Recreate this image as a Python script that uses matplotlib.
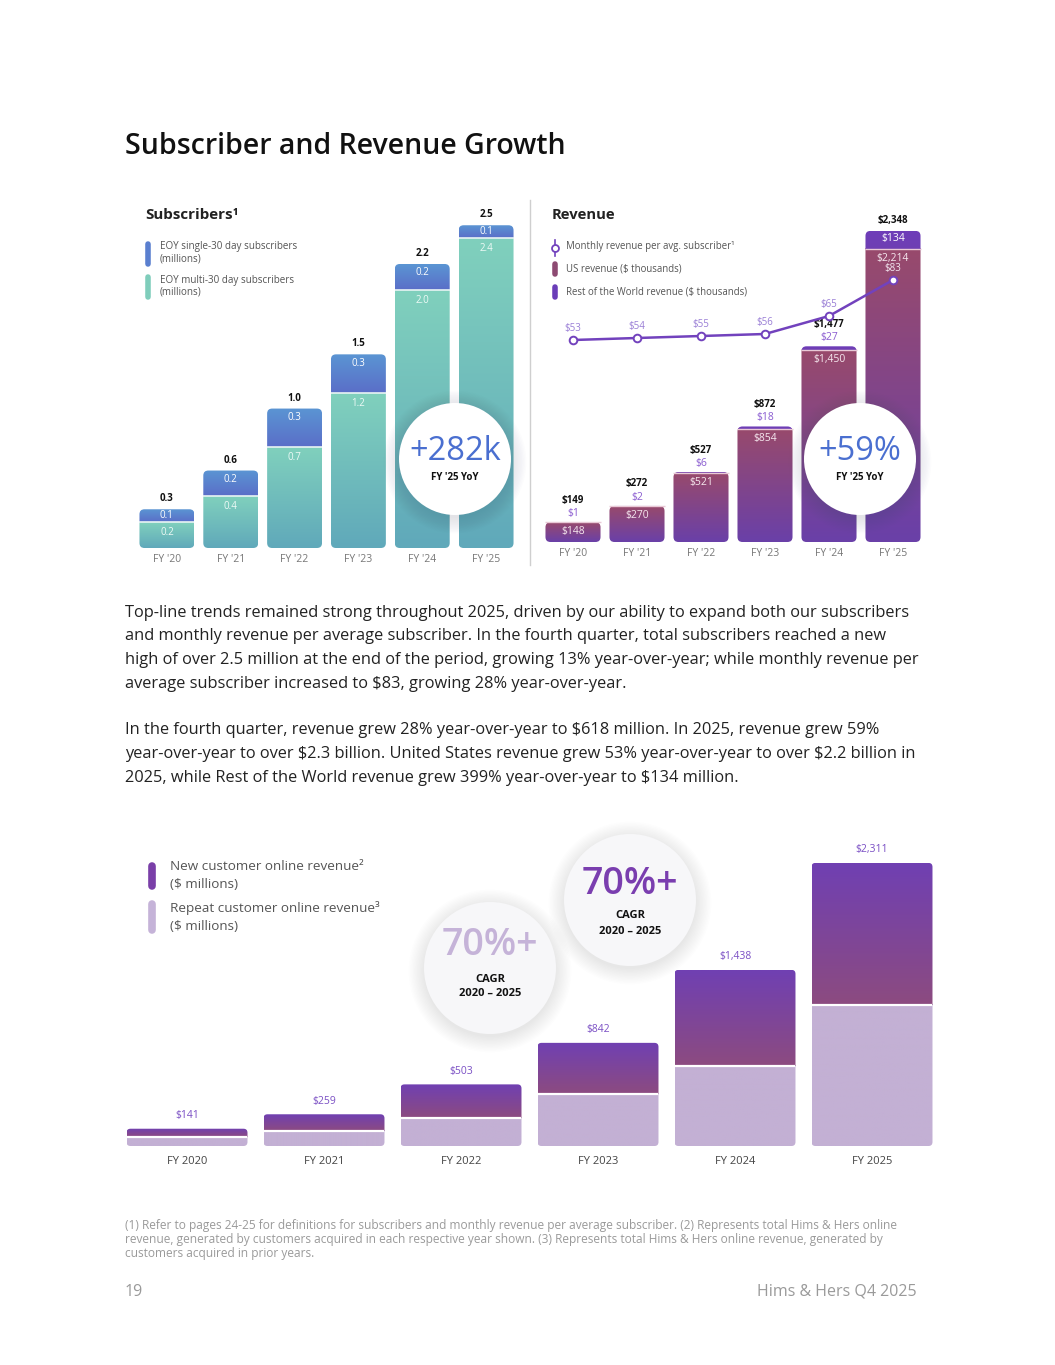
import numpy as np
import matplotlib.pyplot as plt
from matplotlib.patches import FancyBboxPatch, Circle
from matplotlib.lines import Line2D
from matplotlib.colors import to_rgb

W, H = 1055, 1365
plt.rcParams['font.family'] = ['Open Sans', 'DejaVu Sans']
plt.rcParams['text.parse_math'] = False

# ---- data ----
sub_years = ["FY '20", "FY '21", "FY '22", "FY '23", "FY '24", "FY '25"]
sub_multi = [0.2, 0.4, 0.78, 1.2, 2.0, 2.4]
sub_single = [0.1, 0.2, 0.3, 0.3, 0.2, 0.1]
sub_multi_lbl = ['0.2', '0.4', '0.7', '1.2', '2.0', '2.4']
sub_single_lbl = ['0.1', '0.2', '0.3', '0.3', '0.2', '0.1']
sub_total_lbl = ['0.3', '0.6', '1.0', '1.5', '2.2', '2.5']

rev_years = ["FY '20", "FY '21", "FY '22", "FY '23", "FY '24", "FY '25"]
rev_us = [148, 270, 521, 854, 1450, 2214]
rev_row = [1, 2, 6, 18, 27, 134]
arps = [53, 54, 55, 56, 65, 83]

online_years = ['FY 2020', 'FY 2021', 'FY 2022', 'FY 2023', 'FY 2024', 'FY 2025']
online_repeat = [73, 125, 226, 424, 656, 1153]
online_new = [68, 134, 277, 418, 782, 1158]

paragraph = [
    "Top-line trends remained strong throughout 2025, driven by our ability to expand both our subscribers",
    "and monthly revenue per average subscriber. In the fourth quarter, total subscribers reached a new",
    "high of over 2.5 million at the end of the period, growing 13% year-over-year; while monthly revenue per",
    "average subscriber increased to $83, growing 28% year-over-year.",
    "",
    "In the fourth quarter, revenue grew 28% year-over-year to $618 million. In 2025, revenue grew 59%",
    "year-over-year to over $2.3 billion. United States revenue grew 53% year-over-year to over $2.2 billion in",
    "2025, while Rest of the World revenue grew 399% year-over-year to $134 million.",
]
footnote = [
    "(1) Refer to pages 24-25 for definitions for subscribers and monthly revenue per average subscriber. (2) Represents total Hims & Hers online",
    "revenue, generated by customers acquired in each respective year shown. (3) Represents total Hims & Hers online revenue, generated by",
    "customers acquired in prior years.",
]

fig = plt.figure(figsize=(W / 100, H / 100), dpi=100)


def px_axes(x0, y0, x1, y1, **kw):
    return fig.add_axes([x0 / W, 1 - y1 / H, (x1 - x0) / W, (y1 - y0) / H], **kw)


def T(x, y, s, **kw):
    kw.setdefault('va', 'center')
    return fig.text(x / W, 1 - y / H, s, **kw)


def stack_clip(ax, x, w, h, rpx, ux, uy):
    return FancyBboxPatch((x, 0), w, h,
                          boxstyle=f"round,pad=0,rounding_size={rpx * ux}",
                          mutation_aspect=uy / ux, transform=ax.transData)


def grad_fill(ax, bar, c_top, c_bot, clip):
    x0, y0, w, h = bar.get_x(), bar.get_y(), bar.get_width(), bar.get_height()
    t = np.linspace(0, 1, 64)[:, None, None]
    img = np.array(to_rgb(c_top)) * (1 - t) + np.array(to_rgb(c_bot)) * t
    im = ax.imshow(img, extent=(x0, x0 + w, y0, y0 + h), origin='upper',
                   aspect='auto', zorder=2, interpolation='bilinear')
    im.set_clip_path(clip)
    bar.set_visible(False)


# ---- subscribers ----
ax1 = px_axes(135, 200, 518, 548)
ux1, uy1 = 6 / 383, 1 / 129.1
x = np.arange(len(sub_years))
bm = ax1.bar(x, sub_multi, width=0.86)
bs = ax1.bar(x, sub_single, bottom=sub_multi, width=0.86)
for i in range(len(x)):
    tot = sub_multi[i] + sub_single[i]
    clip = stack_clip(ax1, bm[i].get_x(), 0.86, tot, 5, ux1, uy1)
    grad_fill(ax1, bm[i], '#80d0bd', '#60a9ba', clip)
    grad_fill(ax1, bs[i], '#5b95d3', '#5a6ec8', clip)
    ax1.hlines(sub_multi[i], bm[i].get_x(), bm[i].get_x() + 0.86, color='#e8f4f4', lw=1.2, zorder=3)
    ax1.annotate(sub_total_lbl[i], (i, tot), xytext=(0, 7.5), textcoords='offset points',
                 ha='center', va='center', fontsize=7, fontweight='bold', color='#111')
    seg_px = sub_single[i] / uy1
    ax1.annotate(sub_single_lbl[i], (i, tot), xytext=(0, -min(9, seg_px / 2) * 0.72),
                 textcoords='offset points', ha='center', va='center', fontsize=7, color='white')
    ax1.annotate(sub_multi_lbl[i], (i, sub_multi[i]), xytext=(0, -7.5), textcoords='offset points',
                 ha='center', va='center', fontsize=7, color='#eefaf6')
    ax1.annotate(sub_years[i], (i, 0), xytext=(0, -8), textcoords='offset points',
                 ha='center', va='center', fontsize=7.5, color='#777')
ax1.set_xlim(-0.5, 5.5)
ax1.set_ylim(0, 348 / 129.1)
ax1.axis('off')

# ---- revenue ----
ax2 = px_axes(541, 200, 925, 542)
ux2, uy2 = 6 / 384, 1 / 0.1325
bu = ax2.bar(x, rev_us, width=0.86)
br = ax2.bar(x, rev_row, bottom=rev_us, width=0.86)
for i in range(len(x)):
    tot = rev_us[i] + rev_row[i]
    clip = stack_clip(ax2, bu[i].get_x(), 0.86, tot, 5, ux2, uy2)
    grad_fill(ax2, bu[i], '#984a6c', '#6a40a8', clip)
    grad_fill(ax2, br[i], '#6e3db9', '#6f3fb3', clip)
    ax2.hlines(rev_us[i], bu[i].get_x(), bu[i].get_x() + 0.86, color='#e9c9d6', lw=1.0, zorder=3)
    if i < 5:
        ax2.annotate(f"${tot:,}", (i, tot), xytext=(0, 22 * 0.72), textcoords='offset points',
                     ha='center', va='center', fontsize=7, fontweight='bold', color='#111')
        ax2.annotate(f"${rev_row[i]:,}", (i, tot), xytext=(0, 8.5 * 0.72), textcoords='offset points',
                     ha='center', va='center', fontsize=7.5, color='#8a5cd0')
    else:
        ax2.annotate(f"${tot:,}", (i, tot), xytext=(0, 10 * 0.72), textcoords='offset points',
                     ha='center', va='center', fontsize=7, fontweight='bold', color='#111')
        ax2.annotate(f"${rev_row[i]:,}", (i, tot), xytext=(0, -8 * 0.72), textcoords='offset points',
                     ha='center', va='center', fontsize=7.5, color='white')
    ax2.annotate(f"${rev_us[i]:,}", (i, rev_us[i]), xytext=(0, -9.5 * 0.72), textcoords='offset points',
                 ha='center', va='center', fontsize=7.5, color='#f6e8ef')
    ax2.annotate(rev_years[i], (i, 0), xytext=(0, -8), textcoords='offset points',
                 ha='center', va='center', fontsize=7.5, color='#777')
ax2.set_xlim(-0.5, 5.5)
ax2.set_ylim(0, 342 / 0.1325)
ax2.axis('off')

ax2b = ax2.twinx()
ax2b.plot(x, arps, color='#7242bd', lw=1.8, marker='o', ms=5.5, mfc='white', mec='#7242bd', mew=1.4, zorder=4)
for i, v in enumerate(arps):
    ax2b.annotate(f"${v}", (i, v), xytext=(0, 12 * 0.72), textcoords='offset points',
                  ha='center', va='center', fontsize=7, color='#9a7fd6' if i < 5 else '#f3e6f0')
ax2b.set_xlim(-0.5, 5.5)
ax2b.set_ylim(-48, 123)
ax2b.axis('off')

# ---- online revenue ----
ax3 = px_axes(118.5, 840, 940.5, 1146)
ux3, uy3 = 6 / 822, 1 / 0.1225
bre = ax3.bar(x, online_repeat, width=0.883)
bne = ax3.bar(x, online_new, bottom=online_repeat, width=0.883)
for i in range(len(x)):
    tot = online_repeat[i] + online_new[i]
    clip = stack_clip(ax3, bre[i].get_x(), 0.883, tot, 4, ux3, uy3)
    grad_fill(ax3, bre[i], '#c3b0d4', '#c3b0d4', clip)
    grad_fill(ax3, bne[i], '#7040b2', '#8c4b80', clip)
    ax3.hlines(online_repeat[i], bre[i].get_x(), bre[i].get_x() + 0.883, color='white', lw=1.6, zorder=3)
    ax3.annotate(f"${tot:,}", (i, tot), xytext=(0, 13 * 0.72), textcoords='offset points',
                 ha='center', va='center', fontsize=7.5, color='#7a4fc4')
    ax3.annotate(online_years[i], (i, 0), xytext=(0, -15 * 0.72), textcoords='offset points',
                 ha='center', va='center', fontsize=8, color='#444')
ax3.set_xlim(-0.5, 5.5)
ax3.set_ylim(0, 306 / 0.1225)
ax3.axis('off')

# ---- overlay: circles, legends, separator ----
ov = fig.add_axes([0, 0, 1, 1], zorder=5)
ov.set_xlim(0, W)
ov.set_ylim(H, 0)
ov.axis('off')


def badge(cx, cy, r, face, a=0.010):
    for k in range(12):
        ov.add_patch(Circle((cx, cy + 3), r + k * 1.4, color='#4a4a5a', alpha=a, lw=0))
    ov.add_patch(Circle((cx, cy), r, color=face, lw=0))


badge(455, 459, 56, 'white')
ov.text(455, 452, '+282k', ha='center', va='center', fontsize=23.5, color='#4a6fd0', fontweight='medium')
ov.text(455, 478, "FY '25 YoY", ha='center', va='center', fontsize=7, fontweight='bold', color='#111')
badge(860, 459, 56, 'white')
ov.text(860, 452, '+59%', ha='center', va='center', fontsize=23.5, color='#4a6fd0', fontweight='medium')
ov.text(860, 478, "FY '25 YoY", ha='center', va='center', fontsize=7, fontweight='bold', color='#111')

badge(490, 968, 66, '#f7f7f9', 0.008)
ov.text(490, 945, '70%+', ha='center', va='center', fontsize=27, color='#c5b3d8', fontweight='semibold')
ov.text(490, 979, 'CAGR', ha='center', va='center', fontsize=8, fontweight='bold', color='#111')
ov.text(490, 994, '2020 – 2025', ha='center', va='center', fontsize=8, fontweight='bold', color='#111')
badge(630, 900, 66, '#f7f7f9', 0.008)
ov.text(630, 884, '70%+', ha='center', va='center', fontsize=27, color='#7a3eaf', fontweight='semibold')
ov.text(630, 916, 'CAGR', ha='center', va='center', fontsize=8, fontweight='bold', color='#111')
ov.text(630, 931, '2020 – 2025', ha='center', va='center', fontsize=8, fontweight='bold', color='#111')

ov.add_line(Line2D([530, 530], [200, 565], color='#cfcfcf', lw=1))

# subscribers legend
ov.add_line(Line2D([148, 148], [244, 264], color='#5a7fcf', lw=4, solid_capstyle='round'))
ov.add_line(Line2D([148, 148], [277, 297], color='#7fcdbb', lw=4, solid_capstyle='round'))
for yy, s in [(247, 'EOY single-30 day subscribers'), (259, '(millions)'),
              (280, 'EOY multi-30 day subscribers'), (292, '(millions)')]:
    ov.text(160, yy, s, va='center', fontsize=7.1, color='#555')
ov.text(145, 215, 'Subscribers¹', va='center', fontsize=10.9, fontweight='bold', color='#222')

# revenue legend
ov.add_line(Line2D([555, 555], [240, 256], color='#7242bd', lw=1.2))
ov.plot([555], [248], marker='o', ms=5, mfc='white', mec='#7242bd', mew=1.3)
ov.add_line(Line2D([555, 555], [264, 274], color='#8d4a72', lw=4, solid_capstyle='round'))
ov.add_line(Line2D([555, 555], [287, 297], color='#6a3db8', lw=4, solid_capstyle='round'))
for yy, s in [(247, 'Monthly revenue per avg. subscriber¹'), (269, 'US revenue ($ thousands)'),
              (292, 'Rest of the World revenue ($ thousands)')]:
    ov.text(566, yy, s, va='center', fontsize=6.9, color='#555')
ov.text(552, 215, 'Revenue', va='center', fontsize=10.6, fontweight='bold', color='#222')

# online legend
ov.add_line(Line2D([152, 152], [866, 886], color='#7a3fa8', lw=5.5, solid_capstyle='round'))
ov.add_line(Line2D([152, 152], [904, 930], color='#c5b3d8', lw=5.5, solid_capstyle='round'))
for yy, s in [(866, 'New customer online revenue²'), (884, '($ millions)'),
              (908, 'Repeat customer online revenue³'), (926, '($ millions)')]:
    ov.text(170, yy, s, va='center', fontsize=9.7, color='#555')

# ---- page text ----
T(125, 147, 'Subscriber and Revenue Growth', fontsize=20.5, color='#111', fontweight='semibold')
for k, line in enumerate(paragraph):
    T(125, 613 + 23.5 * k, line, fontsize=11.8, color='#222')
for k, line in enumerate(footnote):
    T(125, 1226 + 14 * k, line, fontsize=8.6, color='#9a9a9a')
T(125, 1292, '19', fontsize=11.5, color='#9a9a9a')
T(917, 1292, 'Hims & Hers Q4 2025', fontsize=11.5, color='#9a9a9a', ha='right')

fig.savefig('out.png', dpi=100)
